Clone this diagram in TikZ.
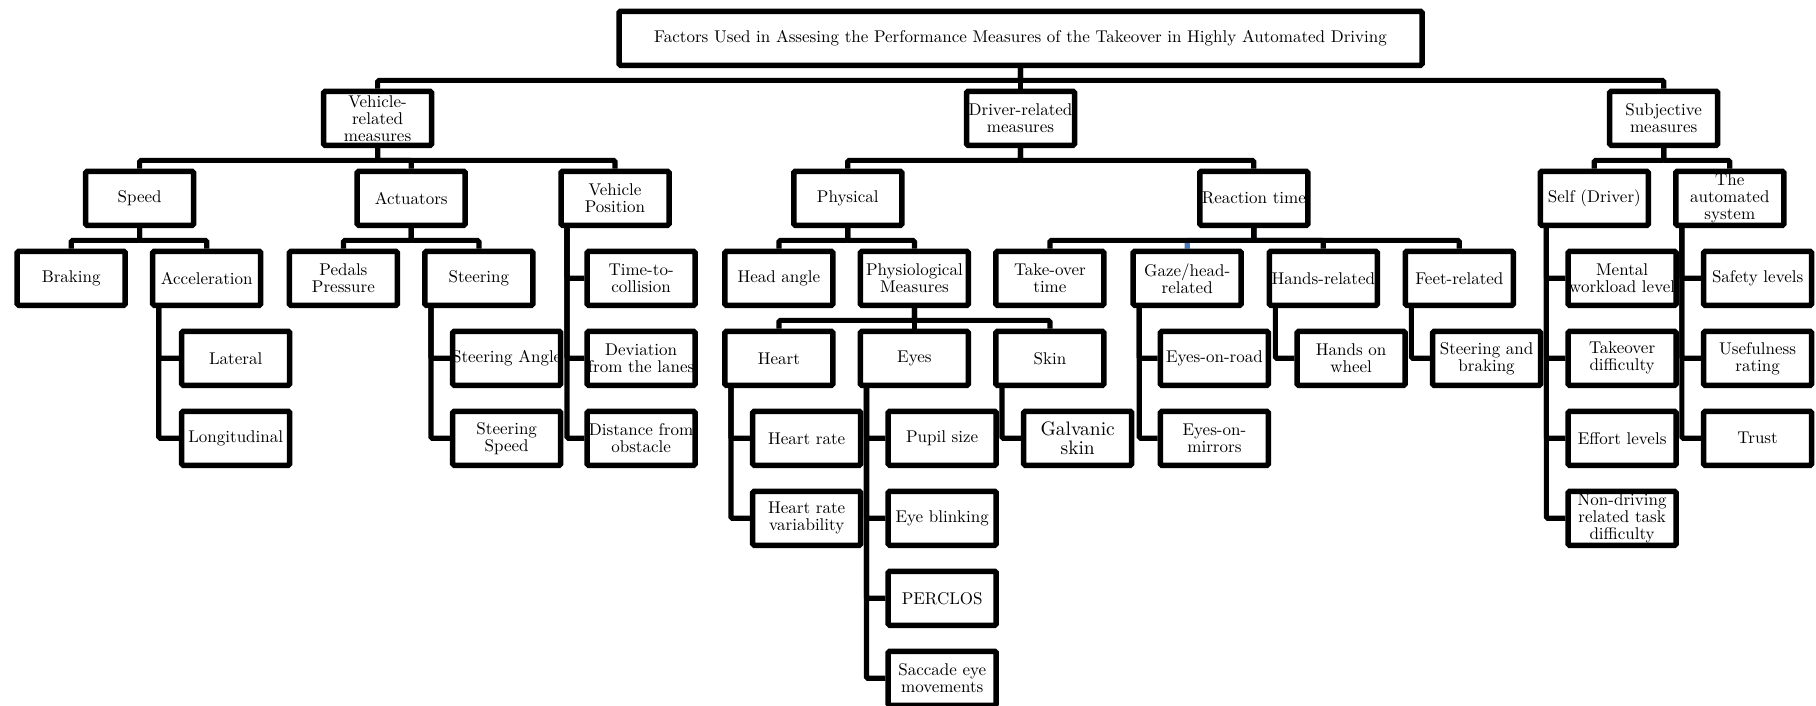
\documentclass[tikz,border=0pt]{standalone}
\usepackage{fontspec}
\setmainfont{lmroman10-regular.otf}
\usetikzlibrary{backgrounds}
\definecolor{linkblue}{RGB}{74,120,184}
% keeps an over-long label from widening its box
\newcommand\wide[1]{\makebox[100pt]{#1}}
\begin{document}
\begin{tikzpicture}[x=1pt,y=-1pt,
  box/.style={draw, line width=5.5pt, rounded corners=1.5pt, fill=white,
    minimum width=108pt, minimum height=54pt, inner sep=0pt,
    align=center, font=\fontsize{17}{17}\selectfont},
  link/.style={line width=5.2pt, rounded corners=1.5pt}]
\useasboundingbox (0,0) rectangle (1816,705);

% root
\node[box, minimum width=803pt] (title) at (1020.5,38.3)
  {Factors Used in Assesing the Performance Measures of the Takeover in Highly Automated Driving};

% first level
\node[box] (veh)  at (377.6,118.3) {Vehicle-\\related\\measures};
\node[box] (drv)  at (1020.5,118.3) {\wide{Driver-related}\\measures};
\node[box] (subj) at (1663.7,118.3) {Subjective\\measures};

% second level
\node[box] (speed) at (139.6,198.3) {Speed};
\node[box] (act)   at (411.2,198.3) {Actuators};
\node[box] (vpos)  at (615,198.3)   {Vehicle\\Position};
\node[box] (phys)  at (847.8,198.3) {Physical};
\node[box] (react) at (1253.8,198.3) {\wide{Reaction time}};
\node[box] (self)  at (1594.3,198.3) {Self (Driver)};
\node[box] (auto)  at (1729.8,198.3) {The\\automated\\system};

% third level
\node[box] (brak)   at (71.2,278.3)   {Braking};
\node[box] (accel)  at (206.7,278.3)  {Acceleration};
\node[box] (pedal)  at (343.4,278.3)  {Pedals\\Pressure};
\node[box] (steer)  at (478.9,278.3)  {Steering};
\node[box] (head)   at (778.9,278.3)  {Head angle};
\node[box] (physio) at (914.4,278.3)  {Physiological\\Measures};
\node[box] (tot)    at (1049.9,278.3) {Take-over\\time};
\node[box] (gaze)   at (1187.2,278.3) {Gaze/head-\\related};
\node[box] (hands)  at (1323.3,278.3) {\wide{Hands-related}};
\node[box] (feet)   at (1459.3,278.3) {Feet-related};

% physiological measures
\node[box] (heart) at (778.9,358.3)  {Heart};
\node[box] (eyes)  at (914.4,358.3)  {Eyes};
\node[box] (skin)  at (1049.9,358.3) {Skin};

% side lists
\node[box] (lat)   at (235.7,358.3) {Lateral};
\node[box] (lon)   at (235.7,438.3) {Longitudinal};
\node[box] (stang) at (506.7,358.3) {\wide{Steering Angle}};
\node[box] (stspd) at (506.7,438.3) {Steering\\Speed};
\node[box] (ttc)   at (641.1,278.3) {Time-to-\\collision};
\node[box] (dev)   at (641.1,358.3) {Deviation\\\wide{from the lanes}};
\node[box] (dist)  at (641.1,438.3) {\wide{Distance from}\\obstacle};
\node[box] (hr)    at (806.7,438.3) {Heart rate};
\node[box] (hrv)   at (806.7,518.3) {Heart rate\\variability};
\node[box] (pupil) at (942.2,438.3) {Pupil size};
\node[box] (blink) at (942.2,518.3) {Eye blinking};
\node[box] (perc)  at (942.2,598.3) {PERCLOS};
\node[box] (sacc)  at (942.2,678.3) {Saccade eye\\movements};
\node[box, font=\fontsize{19.5}{19}\selectfont] (galv) at (1077.7,438.3) {Galvanic\\skin};
\node[box] (eroad) at (1214.4,358.3) {Eyes-on-road};
\node[box] (emir)  at (1214.4,438.3) {Eyes-on-\\mirrors};
\node[box] (hwh)   at (1351.1,358.3) {Hands on\\wheel};
\node[box] (stbr)  at (1486.6,358.3) {Steering and\\braking};
\node[box] (ment)  at (1622.1,278.3) {Mental\\\wide{workload level}};
\node[box] (tkd)   at (1622.1,358.3) {Takeover\\difficulty};
\node[box] (eff)   at (1622.1,438.3) {Effort levels};
\node[box] (ndrt)  at (1622.1,518.3) {Non-driving\\related task\\difficulty};
\node[box] (safe)  at (1757.6,278.3) {Safety levels};
\node[box] (use)   at (1757.6,358.3) {Usefulness\\rating};
\node[box] (trust) at (1757.6,438.3) {Trust};

\begin{scope}[on background layer]
  % the one drop drawn in blue, laid down first so the black bus covers its run
  \draw[link, linkblue] (react.south) -- ++(0,12.3) -| (gaze.north);

  % buses from a parent down to the children below it
  \foreach \p/\c in {title/veh, title/drv, title/subj,
      veh/speed, veh/act, veh/vpos,
      drv/phys, drv/react,
      subj/self, subj/auto,
      speed/brak, speed/accel,
      act/pedal, act/steer,
      phys/head, phys/physio,
      react/tot, react/hands, react/feet,
      physio/heart, physio/eyes, physio/skin}
    \draw[link] (\p.south) -- ++(0,12.3) -| (\c.north);

  % trunks running down the left side to listed children
  \foreach \p/\c in {accel/lat, accel/lon,
      steer/stang, steer/stspd,
      vpos/ttc, vpos/dev, vpos/dist,
      heart/hr, heart/hrv,
      eyes/pupil, eyes/blink, eyes/perc, eyes/sacc,
      skin/galv,
      gaze/eroad, gaze/emir,
      hands/hwh, feet/stbr,
      self/ment, self/tkd, self/eff, self/ndrt,
      auto/safe, auto/use, auto/trust}
    \draw[link] ([xshift=8.8pt]\p.south west) |- (\c.west);
\end{scope}
\end{tikzpicture}
\end{document}
